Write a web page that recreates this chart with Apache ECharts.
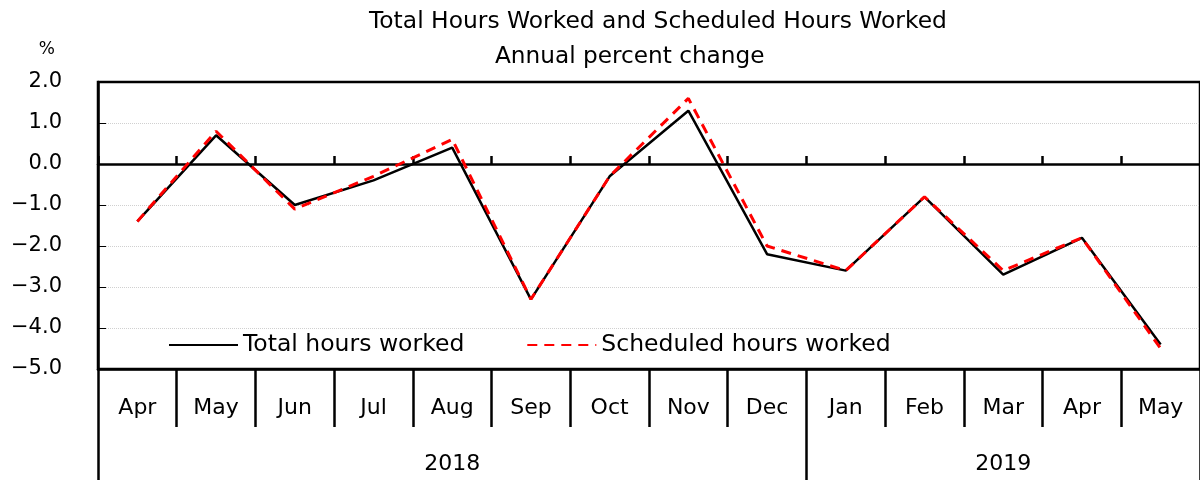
<!DOCTYPE html>
<html>
<head>
<meta charset="utf-8">
<title>Total Hours Worked and Scheduled Hours Worked</title>
<script src="https://cdn.jsdelivr.net/npm/echarts@6/dist/echarts.min.js"></script>
<style>
  html, body { margin: 0; padding: 0; background: #fff; }
  #chart { width: 1200px; height: 480px; }
</style>
</head>
<body>
<div id="chart"></div>
<script>
// 月份
const months = ["Apr", "May", "Jun", "Jul", "Aug", "Sep", "Oct", "Nov", "Dec", "Jan", "Feb", "Mar", "Apr", "May"];
// 年份 及 每年的月数
const years = ["2018", "2019"];
const yearMonthCounts = [9, 5];
// 总劳动时间 / 所定内劳动时间 (前年比 %)
const totalHours = [-1.4, 0.7, -1.0, -0.4, 0.4, -3.3, -0.3, 1.3, -2.2, -2.6, -0.8, -2.7, -1.8, -4.4];
const scheduledHours = [-1.4, 0.8, -1.1, -0.3, 0.6, -3.3, -0.3, 1.6, -2.0, -2.6, -0.8, -2.6, -1.8, -4.5];
// y轴
const yMin = -5, yMax = 2, yStep = 1;

(function () {
    let myChart = echarts.init(document.getElementById('chart'));
    const font = "DejaVu Sans";

    // 年份标签放在每段的中间, 分隔线放在每段的边界
    let yearCenters = [], yearBounds = [0];
    let acc = 0;
    yearMonthCounts.forEach(function (n) {
        yearCenters.push(acc + n / 2);
        acc += n;
        yearBounds.push(acc);
    });

    let option = {
        animation: false,
        textStyle: { fontFamily: font, color: "#000" },
        title: [{
            text: "Total Hours Worked and Scheduled Hours Worked",
            left: 369, top: 10, padding: 0,
            textStyle: { fontFamily: font, fontSize: 23.4, fontWeight: "normal", color: "#000" }
        }, {
            text: "Annual percent change",
            left: 495, top: 45, padding: 0,
            textStyle: { fontFamily: font, fontSize: 23.2, fontWeight: "normal", color: "#000" }
        }],
        legend: {
            left: 168,
            top: 333,
            padding: 0,
            itemWidth: 69,
            itemHeight: 14,
            itemGap: 62,
            itemStyle: { opacity: 0 },
            textStyle: { fontFamily: font, fontSize: 23.5, color: "#000" },
            data: ["Total hours worked", "Scheduled hours worked"]
        },
        grid: {
            left: 98, top: 82, right: -6, bottom: 111,
            show: true,
            borderColor: "#000",
            borderWidth: 2.5
        },
        xAxis: [{
            // 月份轴 (底部)
            type: "category",
            data: months,
            position: "bottom",
            boundaryGap: true,
            axisLine: { onZero: false, lineStyle: { color: "#000", width: 2.5 } },
            axisTick: { show: true, interval: 0, length: 58, lineStyle: { color: "#000", width: 2.5 } },
            axisLabel: { interval: 0, margin: 28, fontFamily: font, fontSize: 22, color: "#000" },
            splitLine: { show: false }
        }, {
            // 年份轴
            type: "value",
            min: 0,
            max: months.length,
            position: "bottom",
            axisLine: { show: false, onZero: false },
            axisTick: { show: true, customValues: yearBounds, length: 111, lineStyle: { color: "#000", width: 2.5 } },
            axisLabel: {
                customValues: yearCenters,
                margin: 84,
                fontFamily: font, fontSize: 22, color: "#000",
                formatter: function (v) {
                    let i = yearCenters.indexOf(v);
                    return i >= 0 ? years[i] : "";
                }
            },
            splitLine: { show: false }
        }, {
            // 0 线
            type: "category",
            data: months,
            position: "bottom",
            boundaryGap: true,
            axisLine: { onZero: true, lineStyle: { color: "#000", width: 2.5 } },
            axisTick: { show: true, inside: true, interval: 0, length: 8, lineStyle: { color: "#000", width: 2.5 } },
            axisLabel: { show: false },
            splitLine: { show: false }
        }],
        yAxis: {
            type: "value",
            min: yMin,
            max: yMax,
            interval: yStep,
            name: "%",
            nameLocation: "end",
            nameGap: 24,
            nameTextStyle: { fontFamily: font, fontSize: 17, color: "#000", align: "right", padding: [0, 43, 0, 0] },
            axisLine: { show: true, lineStyle: { color: "#000", width: 2.5 } },
            axisTick: { show: true, inside: true, length: 8, lineStyle: { color: "#000", width: 1 } },
            axisLabel: {
                margin: 36,
                fontFamily: font, fontSize: 21, color: "#000",
                formatter: function (v) {
                    return (v < 0 ? "\u2212" : "") + Math.abs(v).toFixed(1);
                }
            },
            splitLine: {
                show: true, showMinLine: false, showMaxLine: false,
                lineStyle: { color: "#d0d0d0", type: "dotted", width: 1 }
            }
        },
        series: [{
            name: "Total hours worked",
            type: "line",
            xAxisIndex: 0,
            data: totalHours,
            symbol: "none",
            lineStyle: { color: "#000", width: 2.5 },
            itemStyle: { color: "#000" },
            z: 3
        }, {
            name: "Scheduled hours worked",
            type: "line",
            xAxisIndex: 0,
            data: scheduledHours,
            symbol: "none",
            lineStyle: { color: "#ff0000", width: 3, type: [10, 7] },
            itemStyle: { color: "#ff0000" },
            z: 4
        }]
    };

    myChart.setOption(option);
    window.addEventListener("resize", function () {
        myChart.resize();
    });
})();
</script>
</body>
</html>
